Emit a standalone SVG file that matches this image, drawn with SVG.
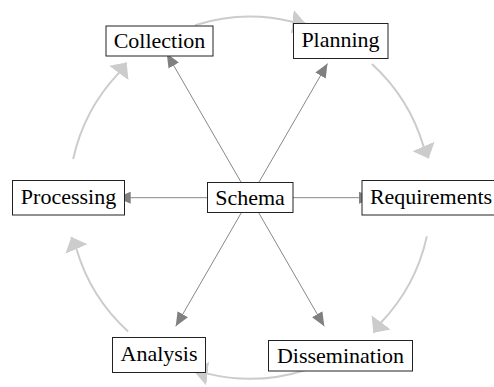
<svg xmlns="http://www.w3.org/2000/svg" xmlns:xlink="http://www.w3.org/1999/xlink" width="494" height="387" viewBox="0 0 494 387">
  <style>
    .box { fill: #ffffff; stroke: #222222; stroke-width: 1; }
    .label { font-size: 22px; fill: #000000; text-anchor: middle; }
    .spoke { fill: none; stroke: #888888; stroke-width: 1; marker-end: url(#spokeHead); }
    .cycle { fill: none; stroke: #cccccc; stroke-width: 2; marker-end: url(#cycleHead); }
  </style>
  <defs>
    <!-- dark arrowhead for the spokes leaving the hub -->
    <marker id="spokeHead" markerUnits="userSpaceOnUse" markerWidth="14" markerHeight="12" refX="14" refY="6" orient="auto" viewBox="0 0 14 12">
      <path d="M0,0 L14,6 L0,12 Z" fill="#808080"/>
    </marker>
    <!-- wide, light arrowhead for the outer cycle -->
    <marker id="cycleHead" markerUnits="userSpaceOnUse" markerWidth="13" markerHeight="24" refX="13" refY="12" orient="auto" viewBox="0 0 13 24">
      <path d="M0,0 L13,12 L0,24 Z" fill="#cccccc"/>
    </marker>
    <!-- one step of the cycle, drawn along the ring around the hub -->
    <path id="cycleStep" class="cycle" d="M195.1,25.2 A181,181 0 0 1 292.6,21.8 L305.3,23.3"/>
  </defs>

  <g id="connectors">
    <!-- spokes from the hub centre -->
    <path class="spoke" d="M250,197.7 L166.75,53.5"/>
    <path class="spoke" d="M250,197.7 L327.5,63.5"/>
    <path class="spoke" d="M250,197.7 L116.7,197.7"/>
    <path class="spoke" d="M250,197.7 L373,197.7"/>
    <path class="spoke" d="M250,197.7 L175.75,326.3"/>
    <path class="spoke" d="M250,197.7 L324.25,326.3"/>
    <!-- outer cycle, each step rotated 60 degrees round the hub -->
    <use xlink:href="#cycleStep"/>
    <use xlink:href="#cycleStep" transform="rotate(60 250 197.7)"/>
    <use xlink:href="#cycleStep" transform="rotate(120 250 197.7)"/>
    <use xlink:href="#cycleStep" transform="rotate(180 250 197.7)"/>
    <use xlink:href="#cycleStep" transform="rotate(240 250 197.7)"/>
    <use xlink:href="#cycleStep" transform="rotate(300 250 197.7)"/>
  </g>

  <g font-family="'Liberation Serif', 'DejaVu Serif', serif">
    <g id="node-collection">
      <rect class="box" x="106" y="26" width="107" height="30"/>
      <text class="label" x="159.5" y="48">Collection</text>
    </g>
    <g id="node-planning">
      <rect class="box" x="293.5" y="23.5" width="94.5" height="35"/>
      <text class="label" x="340.5" y="46.5">Planning</text>
    </g>
    <g id="node-processing">
      <rect class="box" x="12.5" y="180.5" width="112" height="34.5"/>
      <text class="label" x="68.5" y="203.5">Processing</text>
    </g>
    <g id="node-schema">
      <rect class="box" x="207.5" y="182.5" width="85.5" height="30"/>
      <text class="label" x="250" y="205">Schema</text>
    </g>
    <g id="node-requirements">
      <rect class="box" x="362" y="180.5" width="138" height="34.5"/>
      <text class="label" x="431" y="203.5">Requirements</text>
    </g>
    <g id="node-analysis">
      <rect class="box" x="112.5" y="337.5" width="93" height="35"/>
      <text class="label" x="159" y="360.5">Analysis</text>
    </g>
    <g id="node-dissemination">
      <rect class="box" x="268.5" y="340.5" width="144" height="30.5"/>
      <text class="label" x="340.5" y="362.5">Dissemination</text>
    </g>
  </g>
</svg>
